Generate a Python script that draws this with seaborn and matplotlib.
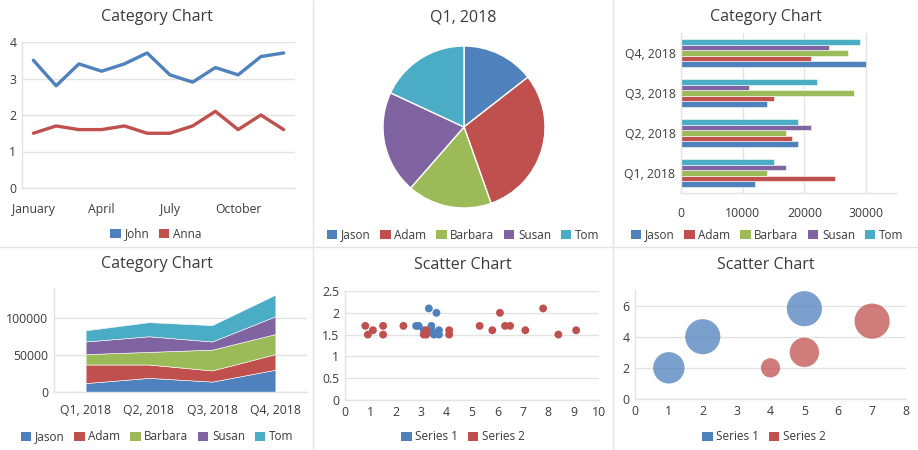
import numpy as np
import pandas as pd
import matplotlib
matplotlib.use("Agg")
import matplotlib.pyplot as plt
from matplotlib.patches import Patch
from matplotlib.lines import Line2D
import seaborn as sns

# ---- data ----
months = ["January", "February", "March", "April", "May", "June", "July",
          "August", "September", "October", "November", "December"]
john = [3.5, 2.8, 3.4, 3.2, 3.4, 3.7, 3.1, 2.9, 3.3, 3.1, 3.6, 3.7]
anna = [1.5, 1.7, 1.6, 1.6, 1.7, 1.5, 1.5, 1.7, 2.1, 1.6, 2.0, 1.6]

quarters = ["Q1, 2018", "Q2, 2018", "Q3, 2018", "Q4, 2018"]
people = ["Jason", "Adam", "Barbara", "Susan", "Tom"]
jason = [12000, 19000, 14000, 30000]
adam = [25000, 18000, 15000, 21000]
barbara = [14000, 17000, 28000, 27000]
susan = [17000, 21000, 11000, 24000]
tom = [15000, 19000, 22000, 29000]

s1_x = [3.3, 3.6, 2.8, 2.9, 3.4, 3.1, 3.7, 3.5, 3.7, 3.4]
s1_y = [2.1, 2.0, 1.7, 1.7, 1.7, 1.6, 1.6, 1.5, 1.5, 1.6]
s2_x = [0.8, 0.9, 1.1, 1.5, 1.5, 2.3, 3.1, 3.2, 3.2, 4.1, 4.1,
        5.3, 5.8, 6.1, 6.3, 6.5, 7.1, 7.8, 8.4, 9.1]
s2_y = [1.7, 1.5, 1.6, 1.7, 1.5, 1.7, 1.5, 1.6, 1.5, 1.6, 1.5,
        1.7, 1.6, 2.0, 1.7, 1.7, 1.6, 2.1, 1.5, 1.6]

b1_x = [1, 2, 5]
b1_y = [2, 4, 5.8]
b1_size = [8, 10, 10]
b2_x = [4, 5, 7]
b2_y = [2, 3, 5]
b2_size = [3, 7, 10]

colors = ["#4f81bd", "#c0504d", "#9bbb59", "#8064a2", "#4bacc6"]
text_c = "#3b3b3b"
grid_c = "#e3e3e3"

sns.set_theme(style="white")
plt.rcParams["font.family"] = ["Open Sans", "DejaVu Sans"]
plt.rcParams["text.color"] = text_c
plt.rcParams["xtick.color"] = text_c
plt.rcParams["ytick.color"] = text_c
plt.rcParams["xtick.labelsize"] = 8.8
plt.rcParams["ytick.labelsize"] = 8.8

W, H = 918, 450
fig = plt.figure(figsize=(W / 100, H / 100), dpi=100)


def rect(x0, y0, x1, y1):
    return [x0 / W, 1 - y1 / H, (x1 - x0) / W, (y1 - y0) / H]


def style(ax, grid_axis="y"):
    for s in ["top", "right"]:
        ax.spines[s].set_visible(False)
    for s in ["left", "bottom"]:
        ax.spines[s].set_color(grid_c)
        ax.spines[s].set_linewidth(1)
    ax.grid(True, axis=grid_axis, color=grid_c, lw=1)
    ax.set_axisbelow(True)
    ax.tick_params(length=0, pad=4)
    ax.set_xlabel("")
    ax.set_ylabel("")


def title(x, y, t):
    fig.text(x / W, 1 - y / H, t, ha="center", va="center", fontsize=11.5)


def legend(x, y, names, cols):
    handles = [Patch(facecolor=c, edgecolor="none") for c in cols]
    fig.legend(handles, names, loc="center", bbox_to_anchor=(x / W, 1 - y / H),
               ncol=len(names), frameon=False, fontsize=8.5, handlelength=0.9,
               handleheight=0.9, handletextpad=0.3, columnspacing=0.8,
               borderpad=0, borderaxespad=0)


# ---- 1: line chart ----
ax1 = fig.add_axes(rect(22, 42, 295, 188))
idx = np.arange(len(months))
sns.lineplot(x=idx, y=john, ax=ax1, color=colors[0], lw=2.4)
sns.lineplot(x=idx, y=anna, ax=ax1, color=colors[1], lw=2.4)
ax1.set_xlim(-0.5, 11.5)
ax1.set_ylim(0, 4)
ax1.set_yticks([0, 1, 2, 3, 4])
ax1.set_xticks(idx[::3])
ax1.set_xticklabels(months[::3])
style(ax1)
ax1.tick_params(axis="x", pad=11)
title(157, 17, "Category Chart")
legend(156, 234, ["John", "Anna"], colors[:2])

# ---- 2: pie ----
ax2 = fig.add_axes(rect(383, 46, 545, 208))
q1 = [jason[0], adam[0], barbara[0], susan[0], tom[0]]
ax2.pie(q1, colors=colors, startangle=90, counterclock=False,
        wedgeprops=dict(edgecolor="white", linewidth=1))
ax2.set_xlim(-1, 1)
ax2.set_ylim(-1, 1)
title(463, 17, "Q1, 2018")
legend(463, 235, people, colors)

# ---- 3: horizontal bars ----
ax3 = fig.add_axes(rect(681, 33, 897, 193))
bar_df = pd.DataFrame({
    "quarter": quarters * 5,
    "name": np.repeat(people, 4),
    "value": jason + adam + barbara + susan + tom,
})
sns.barplot(data=bar_df, x="value", y="quarter", hue="name", hue_order=people,
            order=quarters, palette=colors, orient="h", width=0.68,
            saturation=1, legend=False, ax=ax3, edgecolor="white", linewidth=0.4)
ax3.set_ylim(-0.5, 3.5)
ax3.set_xlim(0, 35000)
ax3.set_xticks([0, 10000, 20000, 30000])
ax3.set_xticklabels(["0", "10000", "20000", "30000"])
style(ax3, "x")
ax3.tick_params(axis="x", pad=10)
title(766, 17, "Category Chart")
legend(767, 235, people, colors)

# ---- 4: stacked area ----
ax4 = fig.add_axes(rect(54, 288, 307, 392))
qx = np.arange(len(quarters))
ax4.stackplot(qx, jason, adam, barbara, susan, tom, colors=colors,
              edgecolor="white", linewidth=0.4)
ax4.set_xlim(-0.5, 3.5)
ax4.set_ylim(0, 140000)
ax4.set_yticks([0, 50000, 100000])
ax4.set_yticklabels(["0", "50000", "100000"])
ax4.set_xticks(qx)
ax4.set_xticklabels(quarters)
style(ax4)
ax4.tick_params(axis="x", pad=9)
title(157, 264, "Category Chart")
legend(157, 437, people, colors)

# ---- 5: scatter ----
ax5 = fig.add_axes(rect(345, 291, 599, 400))
sns.scatterplot(x=s1_x, y=s1_y, ax=ax5, color=colors[0], s=32, edgecolor="none")
sns.scatterplot(x=s2_x, y=s2_y, ax=ax5, color=colors[1], s=32, edgecolor="none")
ax5.set_xlim(0, 10)
ax5.set_ylim(0, 2.5)
ax5.set_xticks(range(0, 11))
ax5.set_yticks([0, 0.5, 1, 1.5, 2, 2.5])
ax5.set_yticklabels(["0", "0.5", "1", "1.5", "2", "2.5"])
style(ax5)
title(463, 265, "Scatter Chart")
legend(463, 437, ["Series 1", "Series 2"], colors[:2])

# ---- 6: bubbles ----
ax6 = fig.add_axes(rect(635, 290, 906, 399))
bub_df = pd.DataFrame({
    "x": b1_x + b2_x,
    "y": b1_y + b2_y,
    "size": b1_size + b2_size,
    "series": ["Series 1"] * 3 + ["Series 2"] * 3,
})
sns.scatterplot(data=bub_df, x="x", y="y", hue="series", size="size",
                sizes=(0, 640), size_norm=(0, 10), palette=colors[:2],
                alpha=0.75, edgecolor="none", legend=False, ax=ax6, clip_on=False)
ax6.set_xlim(0, 8)
ax6.set_ylim(0, 7)
ax6.set_xticks(range(0, 9))
ax6.set_yticks([0, 2, 4, 6])
style(ax6)
title(766, 265, "Scatter Chart")
legend(764, 437, ["Series 1", "Series 2"], colors[:2])

# ---- panel separators ----
for xs in [313, 613]:
    fig.add_artist(Line2D([xs / W, xs / W], [0, 1], color=grid_c, lw=1))
fig.add_artist(Line2D([0, 1], [1 - 247 / H, 1 - 247 / H], color=grid_c, lw=1))

fig.savefig("out.png", dpi=100)
